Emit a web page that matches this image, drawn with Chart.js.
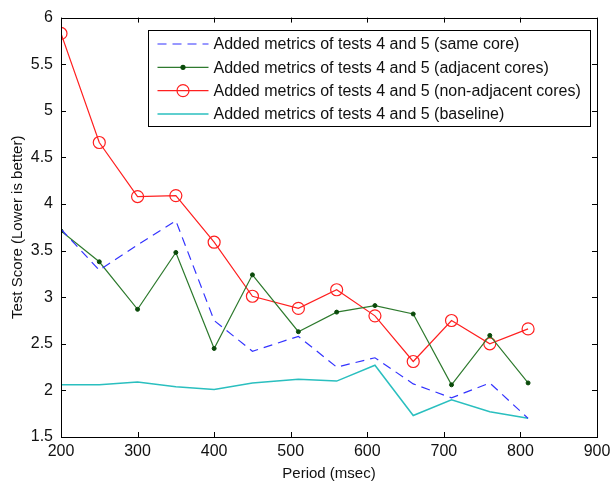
<!DOCTYPE html>
<html>
<head>
<meta charset="utf-8">
<script src="https://cdn.jsdelivr.net/npm/chart.js@4/dist/chart.umd.min.js"></script>
<style>
  html, body { margin: 0; padding: 0; background: #fff; }
</style>
</head>
<body>
<canvas id="chart" width="611" height="483"></canvas>
<script>
// period values (msec)
const periods = [200, 250, 300, 350, 400, 450, 510, 560, 610, 660, 710, 760, 810];

// test scores per configuration
const sameCore     = [3.73, 3.29, 3.56, 3.82, 2.75, 2.42, 2.58, 2.25, 2.35, 2.07, 1.92, 2.08, 1.70];
const adjacent     = [3.71, 3.38, 2.87, 3.48, 2.45, 3.24, 2.63, 2.84, 2.91, 2.82, 2.06, 2.59, 2.08];
const nonAdjacent  = [5.83, 4.66, 4.08, 4.09, 3.59, 3.01, 2.88, 3.08, 2.80, 2.31, 2.75, 2.50, 2.66];
const baseline     = [2.06, 2.06, 2.09, 2.04, 2.01, 2.08, 2.12, 2.10, 2.27, 1.73, 1.90, 1.77, 1.70];

const seriesNames = [
  'Added metrics of tests 4 and 5 (same core)',
  'Added metrics of tests 4 and 5 (adjacent cores)',
  'Added metrics of tests 4 and 5 (non-adjacent cores)',
  'Added metrics of tests 4 and 5 (baseline)'
];

const xTicks = [200, 300, 400, 500, 600, 700, 800, 900];
const yTicks = [1.5, 2, 2.5, 3, 3.5, 4, 4.5, 5, 5.5, 6];

const FONT = 'Liberation Sans, Arial, sans-serif';

function pts(values) {
  return periods.map((p, i) => ({ x: p, y: values[i] }));
}

// matlab style box, inward ticks and legend
const matlabBox = {
  id: 'matlabBox',
  afterDraw(chart) {
    const { ctx, chartArea: a, scales } = chart;
    ctx.save();
    ctx.strokeStyle = '#000';
    ctx.lineWidth = 1;
    ctx.strokeRect(Math.round(a.left) + 0.5, Math.round(a.top) + 0.5,
      Math.round(a.right - a.left), Math.round(a.bottom - a.top));
    const tl = 5;
    ctx.beginPath();
    yTicks.forEach(v => {
      const y = Math.round(scales.y.getPixelForValue(v)) + 0.5;
      ctx.moveTo(a.left, y); ctx.lineTo(a.left + tl, y);
      ctx.moveTo(a.right, y); ctx.lineTo(a.right - tl, y);
    });
    xTicks.forEach(v => {
      const x = Math.round(scales.x.getPixelForValue(v)) + 0.5;
      ctx.moveTo(x, a.bottom); ctx.lineTo(x, a.bottom - tl);
      ctx.moveTo(x, a.top); ctx.lineTo(x, a.top + tl);
    });
    ctx.stroke();

    // legend box
    const bx = Math.round(a.right - 449) + 0.5, by = Math.round(a.top + 12) + 0.5;
    const bw = 442, bh = 96;
    ctx.fillStyle = '#fff';
    ctx.fillRect(bx, by, bw, bh);
    ctx.strokeRect(bx, by, bw, bh);
    ctx.font = '16px ' + FONT;
    ctx.textBaseline = 'middle';
    chart.data.datasets.forEach((ds, i) => {
      const y = by + 13.5 + i * 23.3;
      const x0 = bx + 9, x1 = bx + 60;
      ctx.strokeStyle = ds.borderColor;
      ctx.lineWidth = ds.borderWidth;
      ctx.setLineDash(ds.borderDash || []);
      ctx.beginPath(); ctx.moveTo(x0, y); ctx.lineTo(x1, y); ctx.stroke();
      ctx.setLineDash([]);
      const mx = (x0 + x1) / 2;
      if (ds.pointRadius > 0) {
        ctx.beginPath();
        ctx.arc(mx, y, ds.pointRadius, 0, Math.PI * 2);
        ctx.fillStyle = ds.pointBackgroundColor;
        ctx.fill();
        ctx.strokeStyle = ds.pointBorderColor;
        ctx.lineWidth = 1.2;
        ctx.stroke();
      }
      ctx.fillStyle = '#111';
      ctx.fillText(ds.label, bx + 65, y + 1);
    });
    ctx.restore();
  }
};

new Chart(document.getElementById('chart').getContext('2d'), {
  type: 'line',
  data: {
    datasets: [
      {
        label: seriesNames[0], data: pts(sameCore),
        borderColor: '#3333ff', borderWidth: 1.2, borderDash: [9, 6],
        pointRadius: 0, fill: false, tension: 0
      },
      {
        label: seriesNames[1], data: pts(adjacent),
        borderColor: '#2e7a2e', borderWidth: 1.2,
        pointRadius: 2, pointBackgroundColor: '#0a4a0a', pointBorderColor: '#0a4a0a',
        pointBorderWidth: 1, fill: false, tension: 0
      },
      {
        label: seriesNames[2], data: pts(nonAdjacent),
        borderColor: '#ff2020', borderWidth: 1.2,
        pointRadius: 6, pointBackgroundColor: 'rgba(0,0,0,0)', pointBorderColor: '#ff2020',
        pointBorderWidth: 1.2, fill: false, tension: 0
      },
      {
        label: seriesNames[3], data: pts(baseline),
        borderColor: '#2abfbf', borderWidth: 1.5,
        pointRadius: 0, fill: false, tension: 0
      }
    ]
  },
  options: {
    responsive: false,
    animation: false,
    layout: { padding: { top: 14, right: 14, left: 9, bottom: 0 } },
    plugins: { legend: { display: false }, tooltip: { enabled: false } },
    scales: {
      x: {
        type: 'linear', min: 200, max: 900,
        afterBuildTicks: s => { s.ticks = xTicks.map(v => ({ value: v })); },
        afterFit: s => { s.height = 46; s.paddingLeft = 0; s.paddingRight = 0; },
        grid: { display: false, drawTicks: false },
        border: { display: false },
        ticks: { color: '#111', font: { family: FONT, size: 16 }, padding: 5, maxRotation: 0 },
        title: { display: true, text: 'Period (msec)', color: '#111',
                 font: { family: FONT, size: 15 }, padding: { top: 1, bottom: 0 } }
      },
      y: {
        min: 1.5, max: 6,
        afterBuildTicks: s => { s.ticks = yTicks.map(v => ({ value: v })); },
        afterFit: s => { s.width = 52; },
        grid: { display: false, drawTicks: false },
        border: { display: false },
        ticks: { color: '#111', font: { family: FONT, size: 16 }, padding: 8,
                 callback: v => String(v) },
        title: { display: true, text: 'Test Score (Lower is better)', color: '#111',
                 font: { family: FONT, size: 15 }, padding: { top: 0, bottom: 0 } }
      }
    }
  },
  plugins: [matlabBox]
});
</script>
</body>
</html>
